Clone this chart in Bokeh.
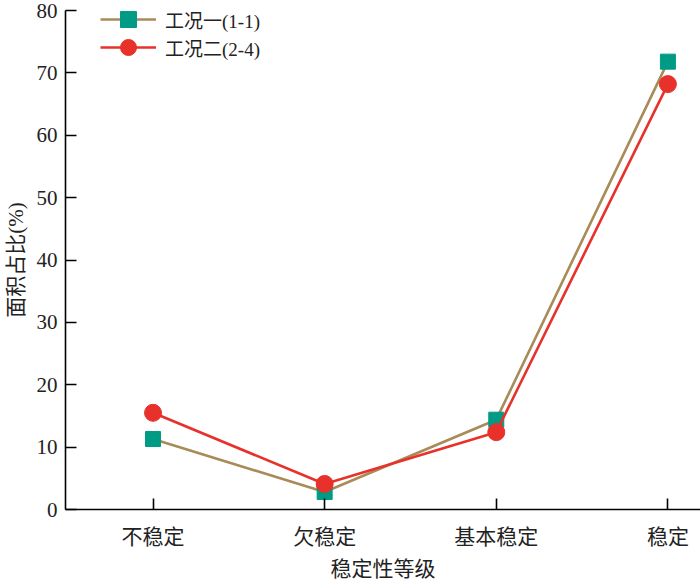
from bokeh.plotting import figure
from bokeh.models import Range1d, FixedTicker, Legend, LegendItem, ColumnDataSource
from bokeh.embed import file_html
from bokeh.resources import INLINE

categories = ["不稳定", "欠稳定", "基本稳定", "稳定"]
series1_name = "工况一(1-1)"
series1 = [11.3, 2.8, 14.4, 71.8]
series2_name = "工况二(2-4)"
series2 = [15.5, 4.1, 12.4, 68.2]
y_ticks = [0, 10, 20, 30, 40, 50, 60, 70, 80]

FONT = "'Liberation Serif', 'Times New Roman', 'Noto Sans CJK SC', serif"

xs = list(range(len(categories)))

p = figure(output_backend="svg", toolbar_location=None,
           width=700, height=583,
           x_range=Range1d(-0.51, 3.19), y_range=Range1d(0, 80),
           min_border_left=65, min_border_right=0, min_border_top=10, min_border_bottom=74)
p.outline_line_color = None
p.grid.visible = False
p.background_fill_color = "white"

src1 = ColumnDataSource(dict(x=xs, y=series1))
src2 = ColumnDataSource(dict(x=xs, y=series2))

l1 = p.line("x", "y", source=src1, line_color="#A88B57", line_width=2.6)
m1 = p.scatter("x", "y", source=src1, marker="square", size=15, fill_color="#009B85", line_color="#009B85")
l2 = p.line("x", "y", source=src2, line_color="#E8312A", line_width=2.6)
m2 = p.scatter("x", "y", source=src2, marker="circle", size=17, fill_color="#E8312A", line_color="#E8312A")

# axes
p.xaxis.ticker = FixedTicker(ticks=xs)
p.xaxis.major_label_overrides = {i: c for i, c in enumerate(categories)}
p.yaxis.ticker = FixedTicker(ticks=y_ticks)
for ax in (p.xaxis, p.yaxis):
    ax.axis_line_color = "black"
    ax.axis_line_width = 1.6
    ax.major_tick_line_color = "black"
    ax.major_tick_line_width = 1.6
    ax.major_tick_in = 11
    ax.major_tick_out = 0
    ax.minor_tick_line_color = None
    ax.major_label_text_font = FONT
    ax.major_label_text_color = "#222222"
    ax.axis_label_text_font = FONT
    ax.axis_label_text_font_size = "21px"
    ax.axis_label_text_font_style = "normal"
    ax.axis_label_text_color = "#222222"

p.xaxis.major_label_text_font_size = "21px"
p.yaxis.major_label_text_font_size = "21px"
p.xaxis.major_label_standoff = 15
p.xaxis.axis_label = "稳定性等级"
p.xaxis.axis_label_standoff = 5
p.yaxis.major_label_standoff = 8
p.yaxis.axis_label = "面积占比(%)"
p.yaxis.axis_label_standoff = 6


def make_legend(name, rends, y):
    lg = Legend(items=[LegendItem(label=name, renderers=rends)], location=(35, y))
    lg.border_line_color = None
    lg.background_fill_alpha = 0
    lg.padding = 0
    lg.margin = 0
    lg.glyph_width = 56
    lg.glyph_height = 40
    lg.label_height = 20
    lg.label_standoff = 9
    lg.label_text_font = FONT
    lg.label_text_font_size = "19px"
    lg.label_text_color = "#222222"
    return lg


p.add_layout(make_legend(series1_name, [l1, m1], 470), "center")
p.add_layout(make_legend(series2_name, [l2, m2], 442), "center")

open("out.html", "w").write(file_html(p, INLINE))
